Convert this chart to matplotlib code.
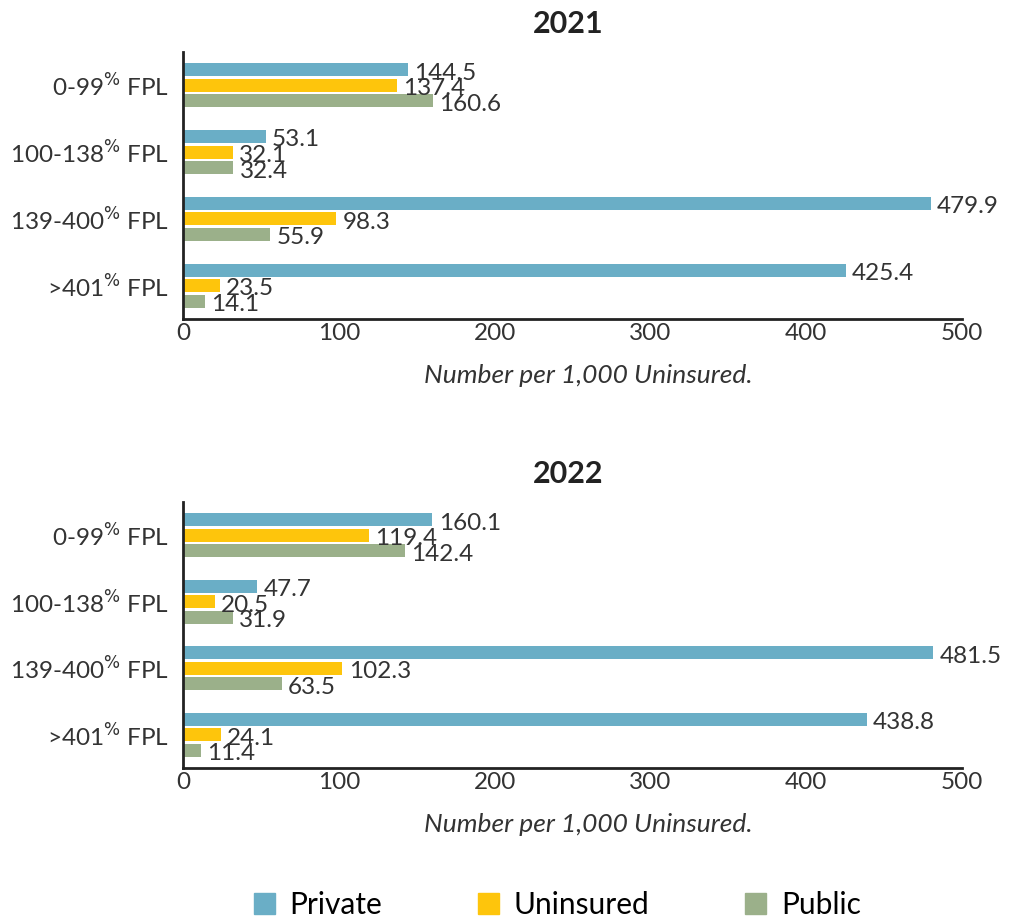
import matplotlib.pyplot as plt
from matplotlib.patches import Patch
import numpy as np

plt.rcParams['font.family'] = ['Lato', 'DejaVu Sans']

# Données
categories = ['0-99$^{\\%}$ FPL', '100-138$^{\\%}$ FPL', '139-400$^{\\%}$ FPL', '>401$^{\\%}$ FPL']
years = ['2021', '2022']
private = {'2021': [144.5, 53.1, 479.9, 425.4], '2022': [160.1, 47.7, 481.5, 438.8]}
uninsured = {'2021': [137.4, 32.1, 98.3, 23.5], '2022': [119.4, 20.5, 102.3, 24.1]}
public = {'2021': [160.6, 32.4, 55.9, 14.1], '2022': [142.4, 31.9, 63.5, 11.4]}

series = [('Private', private, '#6aaec6'),
          ('Uninsured', uninsured, '#fec50c'),
          ('Public', public, '#9bb08a')]

fig = plt.figure(figsize=(10.19, 9.18), dpi=100)
axes = [fig.add_axes([0.1796, 1 - 319 / 918, 0.7645, 267 / 918]),
        fig.add_axes([0.1796, 1 - 768 / 918, 0.7645, 266 / 918])]

y = np.arange(len(categories))
pitch = 0.233
height = 0.195

for ax, year in zip(axes, years):
    for i, (name, data, color) in enumerate(series):
        vals = data[year]
        pos = y + (i - 1) * pitch
        ax.barh(pos, vals, height=height, color=color, label=name)
        for p, v in zip(pos, vals):
            ax.text(v + 4, p + 0.05, f'{v:.1f}', va='center', ha='left',
                    fontsize=17.5, color='#333333')
    ax.set_xlim(0, 500)
    ax.set_ylim(3.5, -0.5)
    ax.set_yticks(y)
    ax.set_yticklabels(categories, fontsize=17.5, color='#333333')
    ax.set_xticks([0, 100, 200, 300, 400, 500])
    ax.tick_params(axis='both', length=0, labelsize=17.5, colors='#333333')
    ax.tick_params(axis='y', pad=10)
    ax.tick_params(axis='x', pad=3)
    for s in ['top', 'right']:
        ax.spines[s].set_visible(False)
    for s in ['left', 'bottom']:
        ax.spines[s].set_linewidth(2)
        ax.spines[s].set_color('#222222')
    ax.set_title(year, fontsize=22, fontweight='bold', color='#222222', pad=14, x=0.494)
    ax.set_xlabel('Number per 1,000 Uninsured.', fontsize=19, style='italic',
                  color='#333333', labelpad=10)
    ax.xaxis.set_label_coords(0.52, -0.17)

handles = [Patch(color=c, label=n) for n, _, c in series]
fig.legend(handles=handles, loc='lower center', bbox_to_anchor=(0.547, -0.03),
           ncol=3, frameon=False, fontsize=21.5, handlelength=0.7, handleheight=0.7,
           columnspacing=3.2, handletextpad=0.5)

fig.savefig('out.png', dpi=100)
